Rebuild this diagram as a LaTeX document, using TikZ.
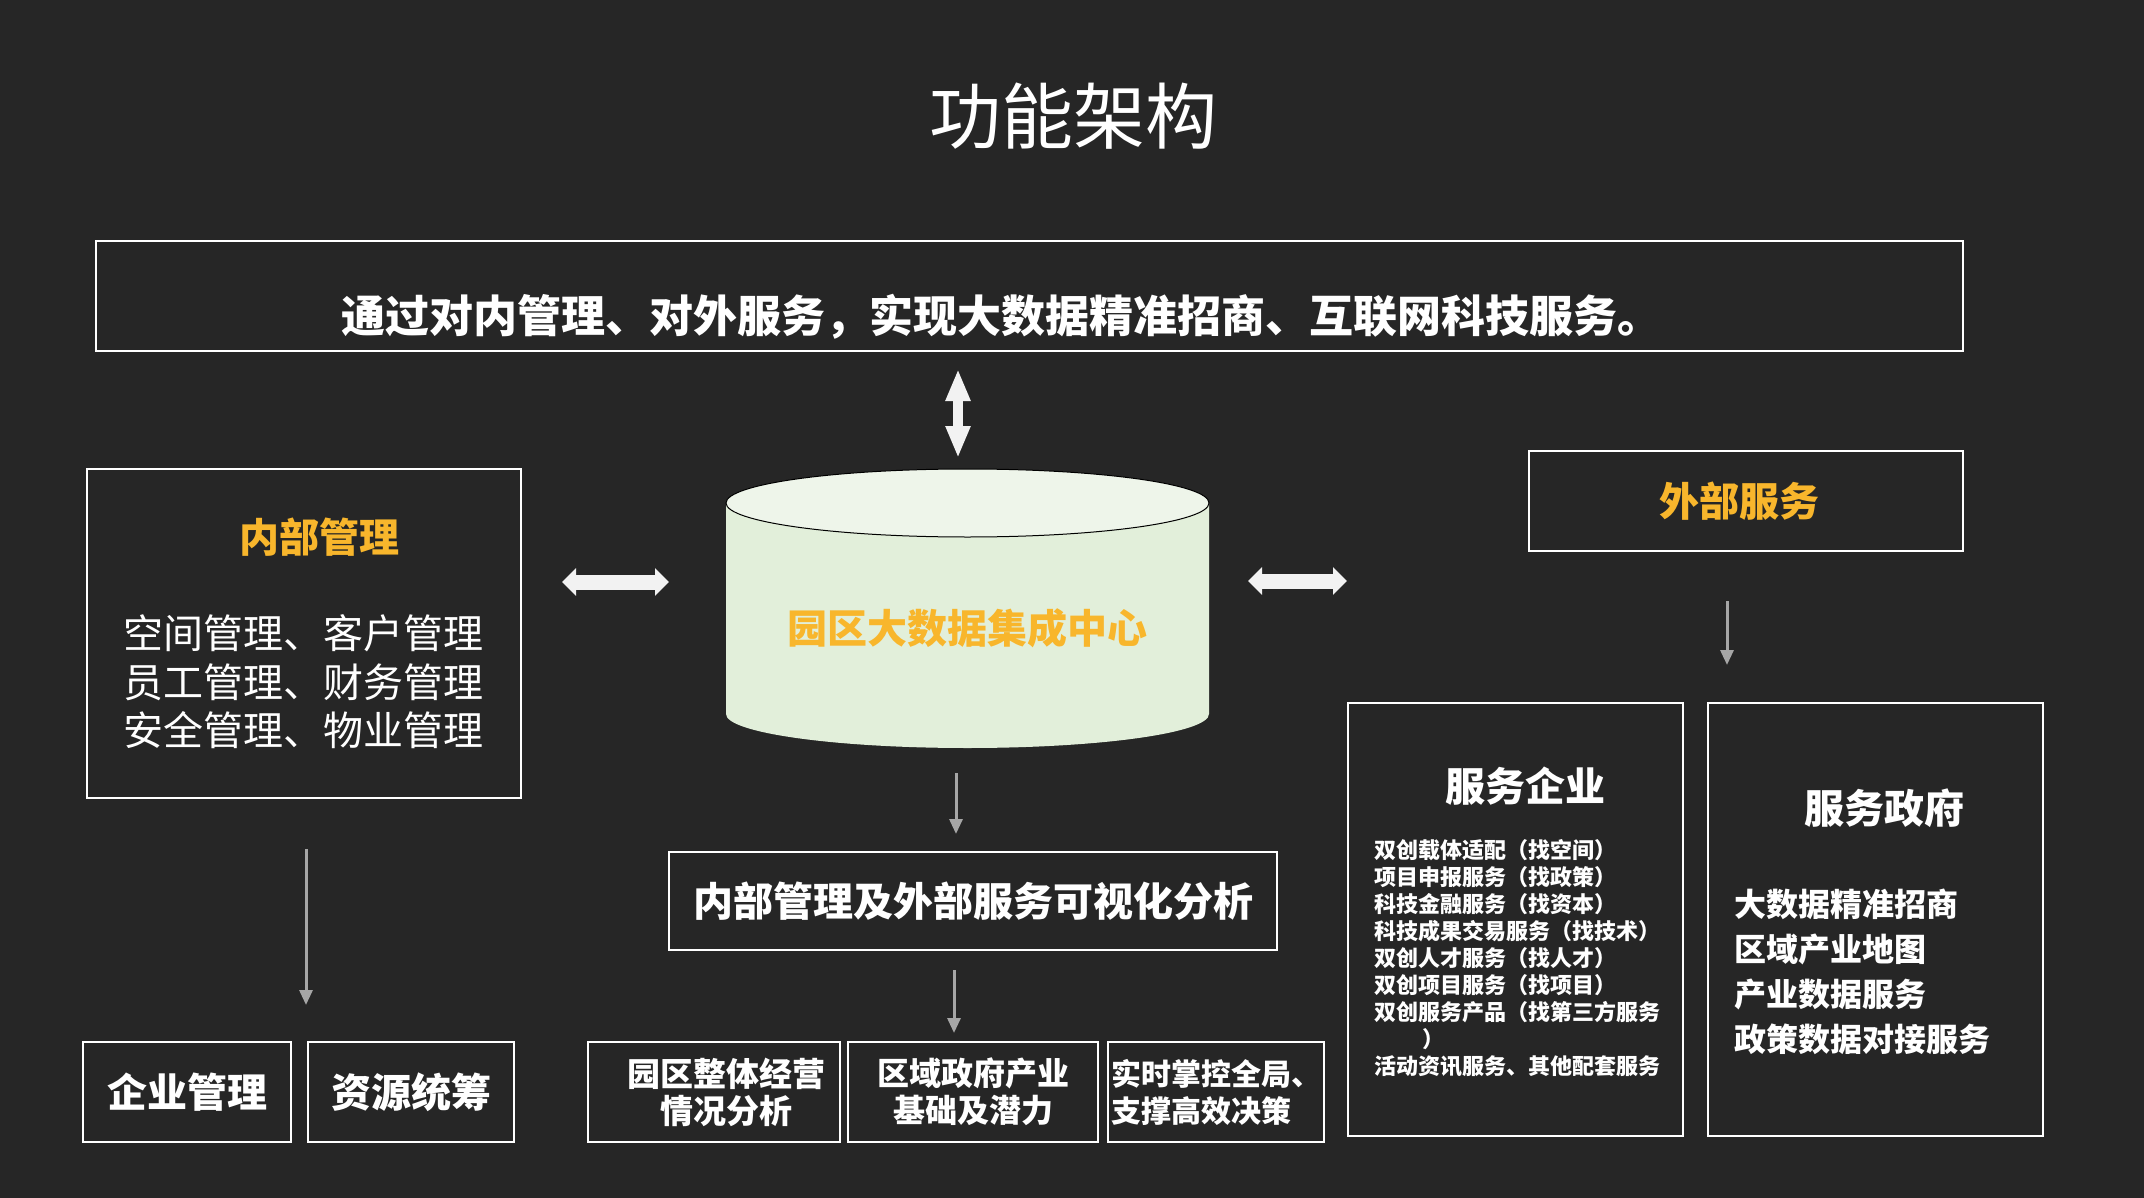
\documentclass[tikz,border=0pt]{standalone}
\usepackage{fontspec}
\setmainfont{Noto Sans CJK SC}
\usetikzlibrary{positioning,arrows.meta}
\definecolor{bg}{HTML}{262626}
\definecolor{gold}{HTML}{F8B62C}
\definecolor{cylbody}{HTML}{E2EFDA}
\definecolor{cyltop}{HTML}{EEF5EA}
\definecolor{flowgray}{HTML}{A6A6A6}
\definecolor{arrwhite}{HTML}{F2F2F2}

\newcommand{\fsz}[2]{\fontsize{#1}{#2}\selectfont}

\tikzset{
  box/.style={draw=white,line width=2pt,rectangle,inner sep=0pt,text=white,font=\bfseries\fsz{40}{48}},
  txt/.style={text=white,inner sep=0pt},
  head/.style={inner sep=0pt,font=\bfseries\fsz{40}{48}},
  flow/.style={draw=flowgray,line width=3pt,-{Triangle[width=13pt,length=15pt]}},
  blockarrow/.style={draw=arrwhite,line width=15pt,
    {Triangle[width=27pt,length=14pt]}-{Triangle[width=27pt,length=14pt]}},
  thinarrow/.style={draw=arrwhite,line width=9.5pt,
    {Triangle[width=23pt,length=32pt]}-{Triangle[width=23pt,length=32pt]}}
}

\begin{document}
\begin{tikzpicture}[x=1pt,y=-1pt]
  \fill[bg] (0,0) rectangle (2144,1198);
  \useasboundingbox (0,0) rectangle (2144,1198);

  \node[txt,font=\fsz{72}{80}] (title) at (1073,116) {功能架构};

  % goal
  \node[box,minimum width=1867pt,minimum height=110pt] (goal) at (1029.5,296) {};
  \node[txt,font=\bfseries\fsz{44}{52}] (goaltxt) at (1001,317)
    {通过对内管理、对外服务，实现大数据精准招商、互联网科技服务。};

  % inner management
  \node[box,minimum width=434pt,minimum height=329pt] (inner) at (304,633.5) {};
  \node[head,text=gold] (innerhead) at (319,537) {内部管理};
  \node[txt,anchor=west,align=left,font=\fsz{40}{48.5}] (innerlist) at (123,682)
    {空间管理、客户管理\\员工管理、财务管理\\安全管理、物业管理};

  % data center
  \fill[cylbody] (726,503) -- (726,714)
    arc[start angle=180,end angle=360,x radius=241.5pt,y radius=34pt] -- (1209,503) -- cycle;
  \filldraw[fill=cyltop,draw=black,line width=1pt] (967.5,503) ellipse [x radius=241.5pt,y radius=34pt];
  \node[head,text=gold] (cyl) at (967,628) {园区大数据集成中心};
  \coordinate (cylL) at (726,582);
  \coordinate (cylR) at (1209,581);
  \coordinate (cylT) at (958,469);
  \coordinate (cylbot) at (956,748);

  % external services
  \node[box,minimum width=434pt,minimum height=100pt,text=gold] (ext) at (1746,501) {外部服务\hspace*{14pt}};
  \node[box,minimum width=335pt,minimum height=433pt] (ent) at (1515.5,919.5) {};
  \node[head,text=white] (enthead) at (1525,786) {服务企业};
  \node[txt,anchor=west,align=left,font=\bfseries\fsz{22}{27}] (entlist) at (1374,958)
    {双创载体适配（找空间）\\项目申报服务（找政策）\\科技金融服务（找资本）\\科技成果交易服务（找技术）\\双创人才服务（找人才）\\双创项目服务（找项目）\\双创服务产品（找第三方服务\\\hspace*{2.2em}）\\活动资讯服务、其他配套服务};
  \node[box,minimum width=335pt,minimum height=433pt] (gov) at (1875.5,919.5) {};
  \node[head,text=white] (govhead) at (1884,808) {服务政府};
  \node[txt,anchor=west,align=left,font=\bfseries\fsz{32}{45}] (govlist) at (1734,971.5)
    {大数据精准招商\\区域产业地图\\产业数据服务\\政策数据对接服务};

  % analysis
  \node[box,minimum width=608pt,minimum height=98pt] (viz) at (973,901) {内部管理及外部服务可视化分析};
  \node[box,minimum width=252pt,minimum height=100pt,align=center,font=\bfseries\fsz{33}{37}] (b1) at (714,1092)
    {\hspace*{24pt}园区整体经营\\\hspace*{24pt}情况分析};
  \node[box,minimum width=250pt,minimum height=100pt,align=center,font=\bfseries\fsz{32}{37}] (b2) at (973,1092)
    {区域政府产业\\基础及潜力};
  \node[box,minimum width=216pt,minimum height=100pt,align=left,font=\bfseries\fsz{30}{37}] (b3) at (1216,1092)
    {实时掌控全局、\\支撑高效决策};
  \node[box,minimum width=208pt,minimum height=100pt] (qy) at (187,1092) {企业管理};
  \node[box,minimum width=206pt,minimum height=100pt] (zy) at (411,1092) {资源统筹};

  % block arrows
  \draw[blockarrow,shorten <=40pt,shorten >=57pt] (inner.east |- cylL) -- (cylL);
  \draw[blockarrow,shorten <=39pt] (cylR) -- (cylR -| ent.west);
  \draw[thinarrow,shorten <=17pt,shorten >=11pt] (goal.south -| cylT) -- (cylT);

  % flows
  \draw[flow,shorten <=50pt,shorten >=36pt] ([xshift=2pt]inner.south) -- ([xshift=2pt]inner.south |- qy.north);
  \draw[flow,shorten <=25pt,shorten >=17pt] (cylbot) -- (cylbot |- viz.north);
  \draw[flow,shorten <=19pt,shorten >=8pt] ([xshift=-19pt]viz.south) -- ([xshift=-19pt]viz.south |- b2.north);
  \draw[flow,shorten <=49pt,shorten >=37pt] ([xshift=-19pt]ext.south) -- ([xshift=-19pt]ext.south |- ent.north);
\end{tikzpicture}
\end{document}
